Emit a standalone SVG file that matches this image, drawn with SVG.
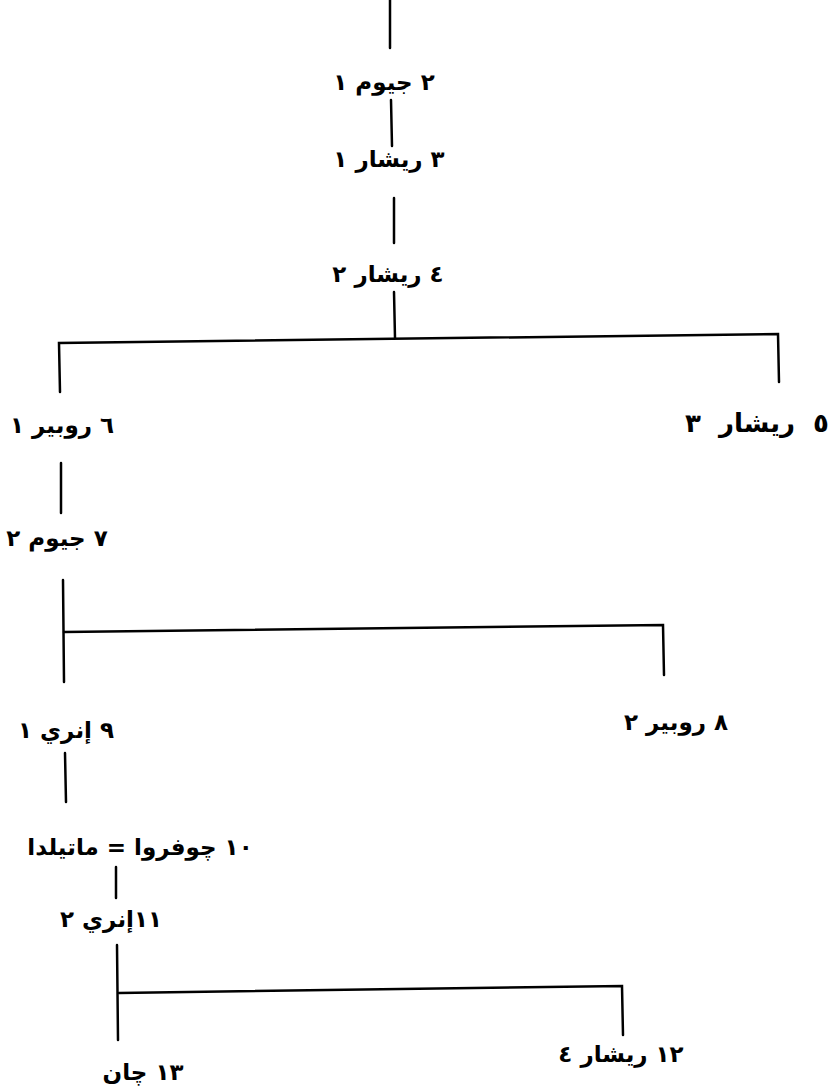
<svg xmlns="http://www.w3.org/2000/svg" width="836" height="1092" viewBox="0 0 836 1092">
<style>
.t{font-family:"DejaVu Sans",sans-serif;font-size:23px;font-weight:bold;fill:#000;text-anchor:middle;direction:rtl;unicode-bidi:embed;white-space:pre}
.c{fill:none;stroke:#000;stroke-width:2.5;stroke-linecap:round;stroke-linejoin:miter}
</style>
<rect width="836" height="1092" fill="#fff"/>
<g id="connectors">
<line class="c" x1="390" y1="0" x2="390" y2="48"/>
<line class="c" x1="391" y1="100" x2="392" y2="146"/>
<line class="c" x1="394" y1="198" x2="394" y2="243"/>
<line class="c" x1="394" y1="292" x2="395" y2="338"/>
<polyline class="c" points="60,392 59,343 778,334 779,382"/>
<line class="c" x1="61" y1="463" x2="61" y2="513"/>
<line class="c" x1="63" y1="580" x2="64" y2="682"/>
<polyline class="c" points="64,632 663,625 664,675"/>
<line class="c" x1="65" y1="753" x2="66" y2="802"/>
<line class="c" x1="116" y1="867" x2="116" y2="898"/>
<line class="c" x1="117" y1="945" x2="118" y2="1040"/>
<polyline class="c" points="119,993 622,986 623,1035"/>
</g>
<g id="n1"><text class="t" x="384" y="90">٢ جيوم ١</text></g>
<g id="n2"><text class="t" x="389" y="167">٣ ريشار ١</text></g>
<g id="n3"><text class="t" x="388" y="282">٤ ريشار ٢</text></g>
<g id="n4"><text class="t" x="62" y="433">٦ روبير ١</text></g>
<g id="n5"><text class="t" x="757" y="432" style="font-size:26px">٥  ريشار  ٣</text></g>
<g id="n6"><text class="t" x="57" y="546">٧ جيوم ٢</text></g>
<g id="n7"><text class="t" x="66" y="738">٩ إنري ١</text></g>
<g id="n8"><text class="t" x="676" y="730">٨ روبير ٢</text></g>
<g id="n9"><text class="t" x="140" y="855">١٠ چوفروا = ماتيلدا</text></g>
<g id="n10"><text class="t" x="111" y="927">١١إنري ٢</text></g>
<g id="n11"><text class="t" x="143" y="1080">١٣ چان</text></g>
<g id="n12"><text class="t" x="621" y="1062">١٢ ريشار ٤</text></g>
</svg>
